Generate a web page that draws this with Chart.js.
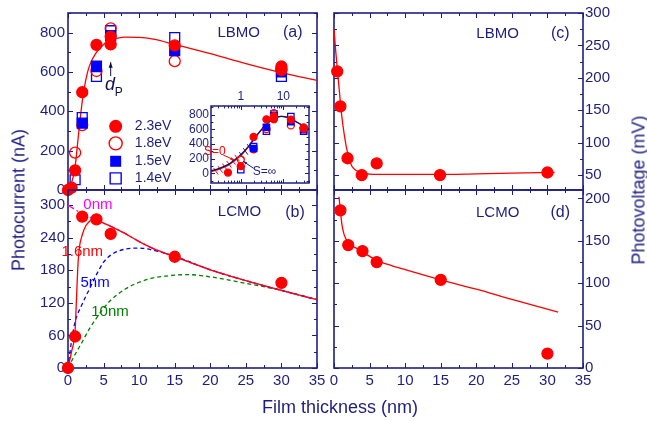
<!DOCTYPE html>
<html>
<head>
<meta charset="utf-8">
<script src="https://cdn.jsdelivr.net/npm/chart.js@4"></script>
<style>
  body { margin: 0; background: #fff; }
  #wrap { position: relative; width: 647px; height: 421px; overflow: hidden; }
  canvas { position: absolute; left: 0; top: 0; }
  .ttl { position: absolute; font: 18px "Liberation Sans", Arial, sans-serif; color: #1e1e82; white-space: nowrap; transform: translate(-50%, -50%); }
  .rot { transform: translate(-50%, -50%) rotate(-90deg); }
</style>
</head>
<body>
<div id="wrap">
  <canvas id="pa" width="647" height="421"></canvas>
  <canvas id="pb" width="647" height="421"></canvas>
  <canvas id="pc" width="647" height="421"></canvas>
  <canvas id="pd" width="647" height="421"></canvas>
  <canvas id="pin" width="647" height="421"></canvas>
  <div class="ttl rot" style="left:19px;top:200px">Photocurrent (nA)</div>
  <div class="ttl rot" style="left:639px;top:190px">Photovoltage (mV)</div>
  <div class="ttl" style="left:340px;top:407px">Film thickness (nm)</div>
</div>
<script>
const navy = '#1e1e82'
const red = '#ff0000', blue = '#0000ff', magenta = '#ff00ff', green = '#008000'
const FONT = '"Liberation Sans", Arial, sans-serif'
Chart.defaults.font.family = FONT
Chart.defaults.color = navy

// film thickness ticks (nm), same for all panels
const xTicks = [0, 5, 10, 15, 20, 25, 30, 35]

// (a) LBMO photocurrent (nA) for four photon energies
const a23X = [0, 0.5, 1, 2, 4, 6, 6, 15, 30, 30]
const a23Y = [0, 12, 100, 497, 738, 780, 740, 735, 628, 610]
const a18X = [1, 2, 4, 6, 15, 30]
const a18Y = [190, 330, 605, 822, 655, 615]
const a15X = [2, 4, 6, 15, 30]
const a15Y = [340, 630, 785, 708, 600]
const a14X = [1, 2, 4, 6, 15, 30]
const a14Y = [52, 368, 577, 810, 775, 578]
const aFitX = [0, 0.5, 1, 1.5, 2, 2.5, 3, 4, 5, 6, 7, 8, 10, 12, 15, 20, 25, 30, 35]
const aFitY = [0, 35, 120, 290, 450, 560, 630, 700, 740, 762, 772, 777, 776, 767, 740, 693, 643, 597, 557]
const aYTicks = [0, 200, 400, 600, 800]

// inset: same data on a log thickness axis, two model curves
const inFitX = [0.2, 0.3, 0.5, 0.7, 1, 1.5, 2, 3, 4, 5, 7, 9, 12, 15, 20, 30, 40]
const inS0Y = [25, 55, 110, 170, 245, 360, 460, 590, 670, 720, 765, 778, 768, 745, 705, 645, 600]
const inSinfY = [35, 65, 120, 180, 255, 365, 462, 590, 670, 720, 765, 778, 768, 745, 705, 645, 600]
const inXTicks = [1, 10]
const inYTicks = [0, 200, 400, 600, 800]
// short hatch strokes under the two inset curves (thickness, top value)
const hatchS0X = [0.26, 0.33, 0.42, 0.53, 0.66, 0.82]
const hatchS0Y = [30, 55, 90, 125, 165, 210]
const hatchSinfX = [1.05, 1.3, 1.6]
const hatchSinfY = [245, 300, 355]

// (b) LCMO photocurrent (nA) and model curves for several dead-layer thicknesses
const bX = [0, 1, 2, 4, 6, 15, 30]
const bY = [0, 58, 279, 274, 247, 205, 157]
const b0X = [0, 1, 2, 3, 4, 5, 6, 8, 10, 12, 15, 20, 25, 30, 35]
const b0Y = [300, 292, 284, 278, 273, 267, 261, 248, 233, 220, 205, 181, 161, 143, 126]
const b16X = [0, 0.5, 1, 1.2, 1.4, 1.6, 2, 2.5, 3, 3.5, 4, 5, 6, 8, 10, 12, 15, 20, 25, 30, 35]
const b16Y = [0, 30, 70, 130, 190, 222, 245, 262, 270, 274, 273, 267, 261, 248, 233, 220, 205, 181, 161, 143, 126]
const b5X = [0, 0.5, 1, 2, 3, 4, 5, 6, 8, 10, 12, 15, 20, 25, 30, 35]
const b5Y = [0, 50, 85, 118, 145, 172, 195, 208, 219, 221, 217, 206, 181, 161, 143, 126]
const b10X = [0, 1, 2, 3, 4, 5, 6, 8, 10, 12, 15, 17, 20, 25, 30, 35]
const b10Y = [0, 25, 48, 72, 92, 110, 125, 145, 158, 166, 171, 172, 168, 156, 143, 126]
const bYTicks = [0, 60, 120, 180, 240, 300]

// (c) LBMO photovoltage (mV)
const cX = [0.45, 0.9, 1.9, 3.9, 6, 14.9, 30]
const cY = [210, 156, 76, 50, 68, 50, 54]
const cFitX = [0, 0.25, 0.5, 0.75, 1, 1.5, 2, 2.5, 3, 4, 5, 6, 8, 10, 15, 20, 25, 31]
const cFitY = [275, 240, 210, 180, 150, 108, 80, 64, 58, 53, 51.5, 51, 51, 51, 51, 52, 53, 54]
const cYTicks = [50, 100, 150, 200, 250, 300]

// (d) LCMO photovoltage (mV)
const dX = [0.9, 2, 4, 6, 15, 30]
const dY = [186, 145, 138, 125, 104, 17]
const dFitX = [0.7, 0.9, 1.1, 1.4, 2, 3, 4, 6, 8, 10, 15, 20, 25, 31.5]
const dFitY = [202, 186, 170, 158, 148, 142, 137, 127, 121, 116, 104, 93, 81, 66]
const dYTicks = [0, 50, 100, 150, 200]

const zip = (xs, ys) => xs.map((x, i) => ({ x, y: ys[i] }))
const halves = (t, lo, hi) => {
  const s = t[1] - t[0]
  return [t[0] - s / 2, ...t.map(v => v + s / 2)].filter(v => v >= lo && v <= hi)
}

const scat = (xs, ys, style, r, fill, color) => ({
  data: zip(xs, ys),
  pointStyle: style,
  pointRadius: r,
  pointBackgroundColor: fill,
  pointBorderColor: color,
  pointBorderWidth: 1.3,
  showLine: false,
  clip: false,
})
const curve = (xs, ys, color, dash) => ({
  data: zip(xs, ys),
  showLine: true,
  pointRadius: 0,
  borderColor: color,
  borderWidth: 1.3,
  borderDash: dash || [],
  cubicInterpolationMode: 'monotone',
  fill: false,
})
// hatch marks: rotated line point style
const hatch = (xs, ys, color) => ({
  data: zip(xs, ys),
  pointStyle: 'line',
  pointRadius: 4,
  rotation: 55,
  pointBorderColor: color,
  pointBorderWidth: 1,
  showLine: false,
})

function axis(type, min, max, ticks, pos, size, opts) {
  const horiz = pos === 'top' || pos === 'bottom'
  const a = {
    type, min, max, position: pos,
    display: size > 0,
    grid: { display: false, drawTicks: false },
    border: { display: false },
    afterBuildTicks: s => { s.ticks = ticks.map(value => ({ value })) },
    ticks: { color: navy, font: { size: 15 }, padding: 4, maxRotation: 0, autoSkip: false, callback: v => String(v) },
  }
  if (size > 0) a.afterFit = horiz ? s => { s.height = size } : s => { s.width = size }
  if (opts) Object.assign(a.ticks, opts)
  return a
}

// box with inward ticks on all sides, Origin style
function framePlugin(f) {
  return {
    id: 'frame',
    beforeDatasetsDraw(chart) {
      const { ctx, chartArea: a } = chart
      const sx = chart.scales.x, sy = chart.scales.y
      ctx.save()
      ctx.strokeStyle = navy
      ctx.lineWidth = 1
      ctx.beginPath()
      const xt = (vals, len) => vals.forEach(v => {
        const p = Math.round(sx.getPixelForValue(v)) + 0.5
        ctx.moveTo(p, a.bottom); ctx.lineTo(p, a.bottom - len)
        ctx.moveTo(p, a.top); ctx.lineTo(p, a.top + len)
      })
      const yt = (vals, len) => vals.forEach(v => {
        const p = Math.round(sy.getPixelForValue(v)) + 0.5
        ctx.moveTo(a.left, p); ctx.lineTo(a.left + len, p)
        ctx.moveTo(a.right, p); ctx.lineTo(a.right - len, p)
      })
      const L = f.len || 5
      xt(f.xMajor, L); xt(f.xMinor, L * 0.6)
      yt(f.yMajor, L); yt(f.yMinor, L * 0.6)
      ctx.stroke()
      ctx.lineWidth = f.lw || 1.6
      ctx.strokeRect(a.left, a.top, a.right - a.left, a.bottom - a.top)
      ctx.restore()
    },
  }
}

// labels, arrows and legend markers placed in data coordinates
function notesPlugin(items) {
  return {
    id: 'notes',
    afterDatasetsDraw(chart) {
      const { ctx } = chart
      const sx = chart.scales.x, sy = chart.scales.y
      items.forEach(n => {
        const px = sx.getPixelForValue(n.x), py = sy.getPixelForValue(n.y)
        ctx.save()
        ctx.fillStyle = ctx.strokeStyle = n.color || navy
        if (n.to) {
          const qx = sx.getPixelForValue(n.to[0]), qy = sy.getPixelForValue(n.to[1])
          ctx.lineWidth = 1
          ctx.beginPath(); ctx.moveTo(px, py); ctx.lineTo(qx, qy); ctx.stroke()
          const ang = Math.atan2(qy - py, qx - px), h = n.head || 6
          ctx.beginPath()
          ctx.moveTo(qx, qy)
          ctx.lineTo(qx - h * Math.cos(ang - 0.35), qy - h * Math.sin(ang - 0.35))
          ctx.lineTo(qx - h * Math.cos(ang + 0.35), qy - h * Math.sin(ang + 0.35))
          ctx.closePath(); ctx.fill()
        }
        if (n.mark) {
          const r = n.r || 6
          ctx.lineWidth = 1.4
          ctx.beginPath()
          if (n.mark === 'disc' || n.mark === 'ring') ctx.arc(px, py, r, 0, Math.PI * 2)
          else ctx.rect(px - r, py - r, 2 * r, 2 * r)
          if (n.mark === 'disc' || n.mark === 'box') ctx.fill(); else ctx.stroke()
        }
        if (n.text) {
          ctx.font = (n.italic ? 'italic ' : '') + (n.size || 15) + 'px ' + FONT
          ctx.textAlign = n.align || 'center'
          ctx.textBaseline = 'middle'
          ctx.fillText(n.text, px, py)
        }
        ctx.restore()
      })
    },
  }
}

function panel(id, cfg) {
  return new Chart(document.getElementById(id), {
    type: 'scatter',
    data: { datasets: cfg.datasets },
    options: {
      responsive: false,
      animation: false,
      events: [],
      layout: { padding: cfg.pad },
      plugins: { legend: { display: false }, tooltip: { enabled: false } },
      scales: { x: cfg.x, y: cfg.y },
    },
    plugins: [framePlugin(cfg.frame), notesPlugin(cfg.notes || [])],
  })
}

const xMinor = halves(xTicks, 0, 35)

// (a)
panel('pa', {
  pad: { left: 8, right: 330, top: 13, bottom: 231 },
  x: axis('linear', 0, 35, xTicks, 'bottom', 0),
  y: axis('linear', 0, 900, aYTicks, 'left', 60, { padding: 3 }),
  frame: { xMajor: xTicks, xMinor, yMajor: aYTicks, yMinor: halves(aYTicks, 0, 900) },
  datasets: [
    scat(a23X, a23Y, 'circle', 5.5, red, red),
    scat(a15X, a15Y, 'rect', 7, blue, blue),
    scat(a18X, a18Y, 'circle', 5.5, 'rgba(0,0,0,0)', red),
    scat(a14X, a14Y, 'rect', 7, 'rgba(0,0,0,0)', blue),
    curve(aFitX, aFitY, red),
  ],
  notes: [
    { text: 'LBMO', x: 24, y: 800 },
    { text: '(a)', x: 31.6, y: 800, size: 16 },
    { x: 6, y: 579, to: [6, 650], color: '#101040', head: 6 },
    { text: 'd', x: 5.9, y: 532, size: 18, italic: true, color: '#101050' },
    { text: 'P', x: 7.15, y: 496, size: 12, color: '#101050' },
    { mark: 'disc', x: 6.7, y: 324, r: 6.5, color: red },
    { mark: 'ring', x: 6.7, y: 237, r: 6.5, color: red },
    { mark: 'box', x: 6.7, y: 146, r: 5.5, color: blue },
    { mark: 'frame', x: 6.7, y: 59, r: 5.5, color: blue },
    { text: '2.3eV', x: 9.4, y: 324, size: 14, align: 'left' },
    { text: '1.8eV', x: 9.4, y: 237, size: 14, align: 'left' },
    { text: '1.5eV', x: 9.4, y: 146, size: 14, align: 'left' },
    { text: '1.4eV', x: 9.4, y: 59, size: 14, align: 'left' },
  ],
})

// inset of (a), log thickness
const pos = (xs, ys) => [xs.filter(x => x > 0), ys.filter((y, i) => xs[i] > 0)]
const inXMinor = [0.1, 1, 10].flatMap(d => [2, 3, 4, 5, 6, 7, 8, 9].map(k => d * k)).filter(v => v >= 0.2 && v <= 40)
panel('pin', {
  pad: { left: 181, right: 338, top: 90, bottom: 238 },
  x: axis('logarithmic', 0.2, 40, inXTicks, 'top', 16, { font: { size: 12 }, padding: 2 }),
  y: axis('linear', -130, 920, inYTicks, 'left', 30, { font: { size: 12 }, padding: 2 }),
  frame: { xMajor: inXTicks, xMinor: inXMinor, yMajor: inYTicks, yMinor: halves(inYTicks, -130, 920), len: 4, lw: 1.5 },
  datasets: [
    scat(...pos(a23X, a23Y), 'circle', 3.5, red, red),
    scat(...pos(a15X, a15Y), 'rect', 4.5, blue, blue),
    scat(...pos(a18X, a18Y), 'circle', 3.5, 'rgba(0,0,0,0)', red),
    scat(...pos(a14X, a14Y), 'rect', 4.5, 'rgba(0,0,0,0)', blue),
    curve(inFitX, inSinfY, '#101070'),
    curve(inFitX, inS0Y, red),
    hatch(hatchS0X, hatchS0Y, red),
    hatch(hatchSinfX, hatchSinfY, navy),
  ],
  notes: [
    { text: 'S=0', x: 0.245, y: 296, size: 12, color: red },
    { x: 0.39, y: 250, to: [0.7, 185], color: red, head: 4 },
    { text: 'S=\u221e', x: 3.6, y: 22, size: 12, color: navy },
    { x: 2.0, y: 70, to: [1.15, 165], color: navy, head: 4 },
  ],
})

// (b)
panel('pb', {
  pad: { left: 8, right: 330, top: 190, bottom: 28 },
  x: axis('linear', 0, 35, xTicks, 'bottom', 25),
  y: axis('linear', 0, 328, bYTicks, 'left', 60, { padding: 3 }),
  frame: { xMajor: xTicks, xMinor, yMajor: bYTicks, yMinor: halves(bYTicks, 0, 328) },
  datasets: [
    scat(bX, bY, 'circle', 5.5, red, red),
    curve(b16X, b16Y, red),
    curve(b0X, b0Y, magenta, [7, 3, 2, 3]),
    curve(b5X, b5Y, blue, [4, 3]),
    curve(b10X, b10Y, green, [4, 3]),
  ],
  notes: [
    { text: 'LCMO', x: 24.1, y: 287 },
    { text: '(b)', x: 31.9, y: 287, size: 16 },
    { text: '0nm', x: 4.2, y: 300, color: magenta },
    { text: '1.6nm', x: 2.0, y: 214, color: red },
    { text: '5nm', x: 3.8, y: 157, color: blue },
    { text: '10nm', x: 5.9, y: 104, color: green },
  ],
})

// (c)
panel('pc', {
  pad: { left: 334, right: 14, top: 13, bottom: 231 },
  x: axis('linear', 0, 35, xTicks, 'bottom', 0),
  y: axis('linear', 27, 300, cYTicks, 'right', 50, { padding: 2 }),
  frame: { xMajor: xTicks, xMinor, yMajor: cYTicks, yMinor: halves(cYTicks, 27, 300) },
  datasets: [
    scat(cX, cY, 'circle', 5.5, red, red),
    curve(cFitX, cFitY, red),
  ],
  notes: [
    { text: 'LBMO', x: 23, y: 268 },
    { text: '(c)', x: 31.8, y: 268, size: 16 },
  ],
})

// (d)
panel('pd', {
  pad: { left: 334, right: 14, top: 190, bottom: 28 },
  x: axis('linear', 0, 35, xTicks, 'bottom', 25),
  y: axis('linear', 0, 210, dYTicks, 'right', 50, { padding: 2 }),
  frame: { xMajor: xTicks, xMinor, yMajor: dYTicks, yMinor: halves(dYTicks, 0, 210) },
  datasets: [
    scat(dX, dY, 'circle', 5.5, red, red),
    curve(dFitX, dFitY, red),
  ],
  notes: [
    { text: 'LCMO', x: 23, y: 183 },
    { text: '(d)', x: 31.8, y: 183, size: 16 },
  ],
})
</script>
</body>
</html>
